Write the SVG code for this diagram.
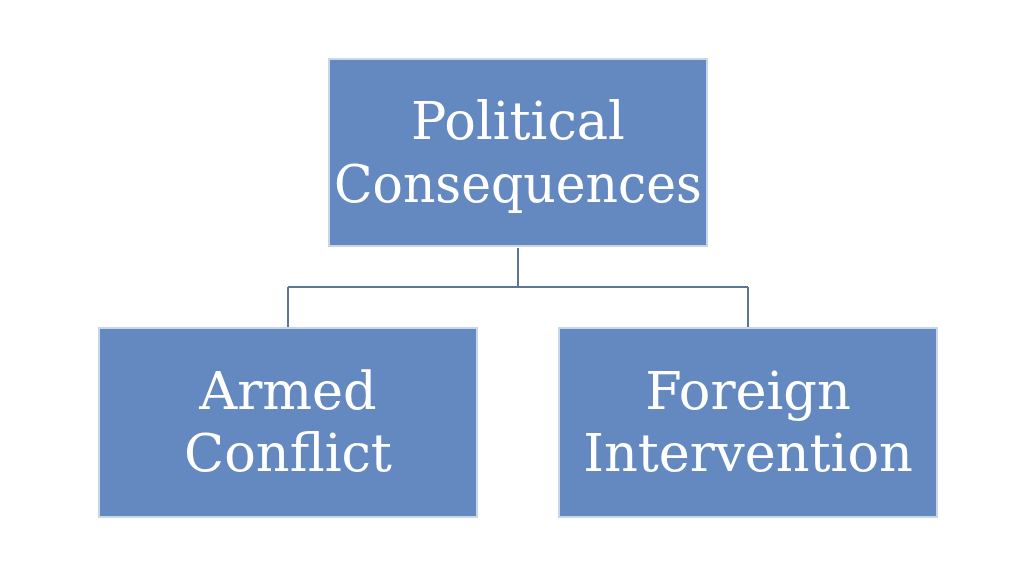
<svg xmlns="http://www.w3.org/2000/svg" width="1024" height="576" viewBox="0 0 1024 576">
<style>
.box{fill:#6389C0;stroke:#C9D6E8;stroke-width:2}
.lbl{font-family:"DejaVu Serif","Liberation Serif",serif;font-size:52.5px;fill:#FFFFFF;text-anchor:middle}
.conn{fill:none;stroke:#5C7794;stroke-width:2}
</style>
<rect width="1024" height="576" fill="#FFFFFF"/>
<g id="connectors">
<path class="conn" d="M518,248 V287 M288,287 H748 M288,287 V327 M748,287 V327"/>
</g>
<g id="node-political">
<rect class="box" x="329" y="59" width="378" height="187"/>
<text class="lbl" x="518" y="139">Political</text>
<text class="lbl" x="518" y="202" textLength="368" lengthAdjust="spacingAndGlyphs">Consequences</text>
</g>
<g id="node-armed">
<rect class="box" x="99" y="328" width="378" height="189"/>
<text class="lbl" x="288" y="409">Armed</text>
<text class="lbl" x="288" y="471">Conflict</text>
</g>
<g id="node-foreign">
<rect class="box" x="559" y="328" width="378" height="189"/>
<text class="lbl" x="748" y="409">Foreign</text>
<text class="lbl" x="748" y="471">Intervention</text>
</g>
</svg>
